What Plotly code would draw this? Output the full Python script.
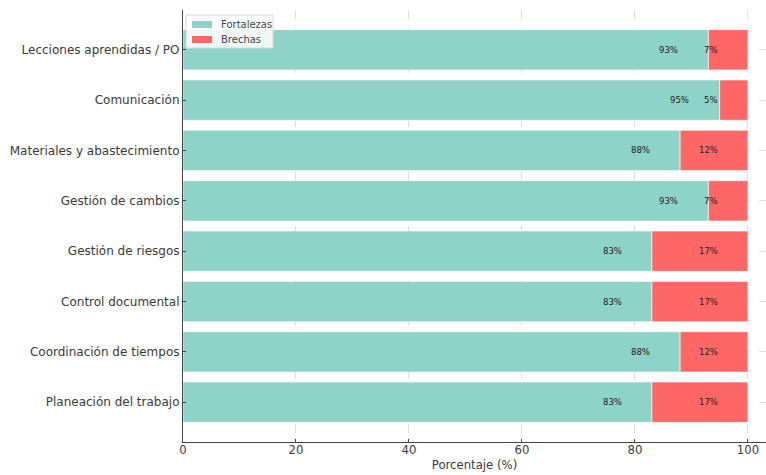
import plotly.graph_objects as go

categorias = [
    "Lecciones aprendidas / PO",
    "Comunicación",
    "Materiales y abastecimiento",
    "Gestión de cambios",
    "Gestión de riesgos",
    "Control documental",
    "Coordinación de tiempos",
    "Planeación del trabajo",
]
fortalezas = [93, 95, 88, 93, 83, 83, 88, 83]
brechas = [7, 5, 12, 7, 17, 17, 12, 17]
x_ticks = [0, 20, 40, 60, 80, 100]
series_names = ["Fortalezas", "Brechas"]

FONT = "DejaVu Sans"
TEAL = "#8dd3c7"
RED = "#ff6666"
TXT = "#3a3a3a"

fig = go.Figure()
fig.add_trace(go.Bar(
    y=categorias, x=fortalezas, orientation="h", name=series_names[0],
    marker=dict(color=TEAL, line=dict(color="white", width=0.6)),
    showlegend=False,
))
fig.add_trace(go.Bar(
    y=categorias, x=brechas, base=fortalezas, orientation="h", name=series_names[1],
    marker=dict(color=RED, line=dict(color="white", width=0.6)),
    showlegend=False,
))

for c, f, b in zip(categorias, fortalezas, brechas):
    fig.add_annotation(x=f - 5, y=c, text=f"{f}%", showarrow=False,
                       xanchor="right", yanchor="middle",
                       font=dict(family=FONT, size=8.5, color="#222"))
    fig.add_annotation(x=f + b - 5, y=c, text=f"{b}%", showarrow=False,
                       xanchor="right", yanchor="middle",
                       font=dict(family=FONT, size=8.5, color="#222"))

# Manual legend (matplotlib-like), positioned in pixels on the paper
W, H = 766, 475
L, R, T, B = 183, 0, 10, 33
pw, ph = W - L - R, H - T - B


def px(x):
    return (x - L) / pw


def py(y):
    return 1 - (y - T) / ph


fig.add_shape(type="rect", xref="paper", yref="paper",
              x0=px(186), x1=px(273), y0=py(15), y1=py(48),
              fillcolor="rgba(255,255,255,0.85)", line=dict(color="#d8d8d8", width=1),
              layer="above")
for i, (name, col) in enumerate(zip(series_names, [TEAL, RED])):
    yc = 24.5 + i * 15
    fig.add_shape(type="rect", xref="paper", yref="paper",
                  x0=px(192), x1=px(212), y0=py(yc - 3.5), y1=py(yc + 3.5),
                  fillcolor=col, line=dict(width=0), layer="above")
    fig.add_annotation(xref="paper", yref="paper", x=px(219), y=py(yc),
                       text=name, showarrow=False, xanchor="left", yanchor="middle",
                       font=dict(family=FONT, size=10, color="#444"))

n = len(categorias)
fig.update_layout(
    width=W, height=H,
    margin=dict(l=L, r=R, t=T, b=B),
    barmode="overlay", bargap=0.2,
    plot_bgcolor="white", paper_bgcolor="white",
    font=dict(family=FONT, size=11.7, color=TXT),
    showlegend=False,
    xaxis=dict(
        range=[0, 103.2], tickvals=x_ticks, ticktext=[str(t) for t in x_ticks],
        showgrid=True, gridcolor="rgba(180,180,180,0.45)", griddash="dash",
        gridwidth=0.8, zeroline=False, showline=True, linecolor="#444",
        linewidth=1.2, ticks="inside", ticklen=3, tickcolor="#444",
        ticklabelstandoff=-3,
        title=dict(text="Porcentaje (%)", font=dict(family=FONT, size=11.7, color=TXT),
                   standoff=4),
        tickfont=dict(family=FONT, size=11.7, color=TXT),
        layer="above traces",
    ),
    yaxis=dict(
        categoryorder="array", categoryarray=categorias[::-1],
        range=[-0.79, n - 1 + 0.79],
        showgrid=True, gridcolor="rgba(180,180,180,0.45)", griddash="dash",
        gridwidth=0.8, zeroline=False, showline=True, linecolor="#444",
        linewidth=1.2, ticks="inside", ticklen=3, tickcolor="#444",
        tickfont=dict(family=FONT, size=12, color=TXT),
        layer="above traces",
    ),
)

fig.write_html("out.html")
